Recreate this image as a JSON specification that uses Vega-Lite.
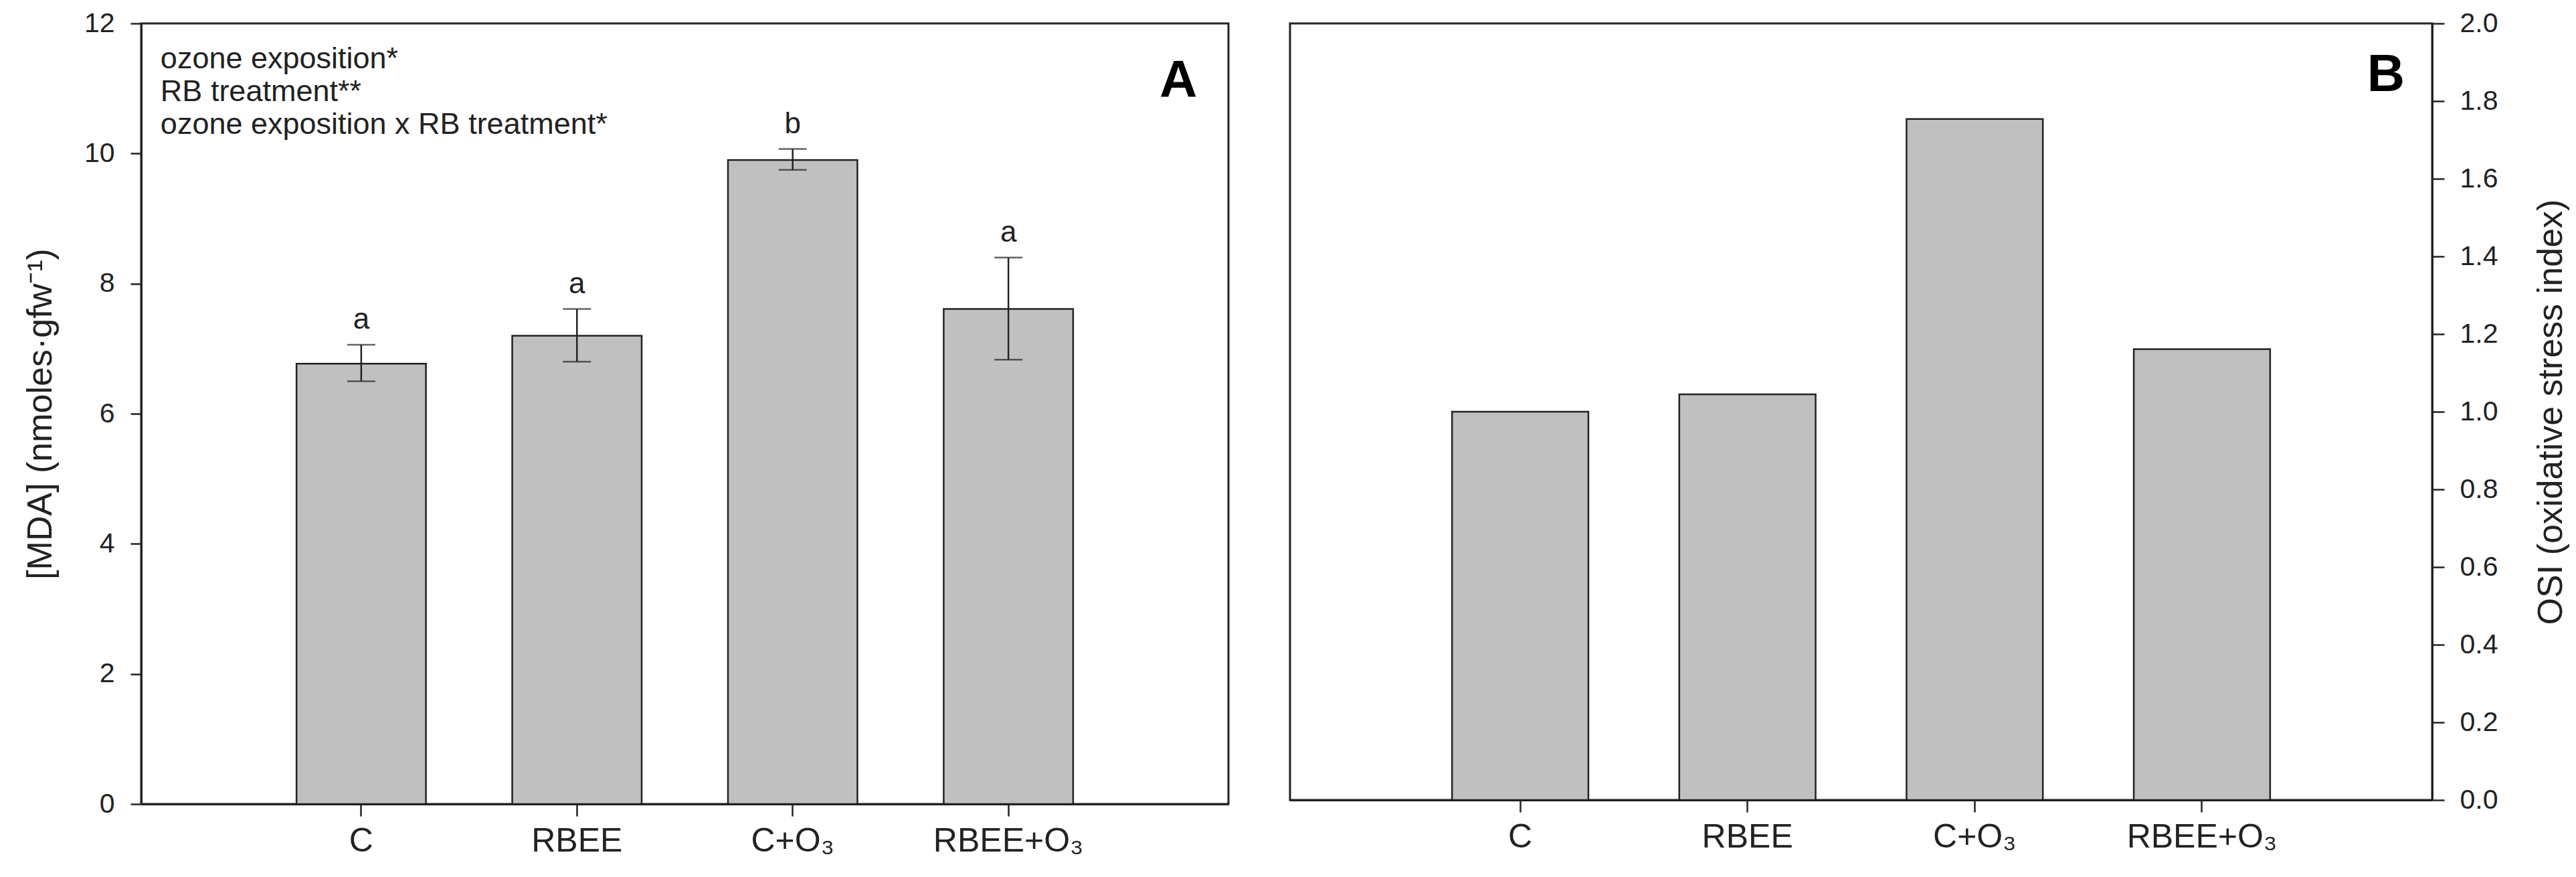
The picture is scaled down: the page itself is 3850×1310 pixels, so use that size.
{
  "$schema": "https://vega.github.io/schema/vega-lite/v6.json",
  "background": "white",
  "padding": {"left": 32, "top": 12, "right": 0, "bottom": 0},
  "spacing": 88,
  "config": {
    "font": "Liberation Sans",
    "view": {"stroke": "#222222", "strokeWidth": 3},
    "axis": {
      "domainColor": "#222222", "domainWidth": 3,
      "tickColor": "#222222", "tickWidth": 2.5,
      "labelColor": "#222222", "titleColor": "#222222",
      "grid": false, "labelLimit": 0, "titleLimit": 0,
      "labelFont": "Liberation Sans", "titleFont": "Liberation Sans",
      "titleFontWeight": "normal"
    }
  },
  "hconcat": [
    {
      "width": 1625,
      "height": 1166,
      "data": {"values": [
        {"treatment": "C", "mda": 6.77, "lo": 6.50, "hi": 7.06, "letter": "a"},
        {"treatment": "RBEE", "mda": 7.20, "lo": 6.80, "hi": 7.61, "letter": "a"},
        {"treatment": "C+O₃", "mda": 9.90, "lo": 9.75, "hi": 10.07, "letter": "b"},
        {"treatment": "RBEE+O₃", "mda": 7.61, "lo": 6.83, "hi": 8.40, "letter": "a"}
      ]},
      "encoding": {
        "x": {
          "field": "treatment", "type": "nominal",
          "scale": {"domain": ["C", "RBEE", "C+O₃", "RBEE+O₃"], "paddingInner": 0.4, "paddingOuter": 0.72},
          "axis": {"title": null, "labelAngle": 0, "labelFontSize": 50, "tickSize": 18, "labelPadding": 12}
        }
      },
      "layer": [
        {
          "mark": {"type": "bar", "fill": "#c0c0c0", "stroke": "#222222", "strokeWidth": 2.5},
          "encoding": {
            "y": {
              "field": "mda", "type": "quantitative",
              "scale": {"domain": [0, 12], "nice": false},
              "axis": {
                "title": "[MDA] (nmoles·gfw⁻¹)",
                "values": [0, 2, 4, 6, 8, 10, 12],
                "format": "d",
                "tickSize": 16, "labelPadding": 24, "labelFontSize": 41,
                "titleFontSize": 52, "titlePadding": 38
              }
            }
          }
        },
        {
          "mark": {"type": "rule", "strokeWidth": 2.5, "color": "#222222"},
          "encoding": {"y": {"field": "lo", "type": "quantitative"}, "y2": {"field": "hi"}}
        },
        {
          "mark": {"type": "tick", "orient": "horizontal", "size": 42, "thickness": 2.5, "color": "#222222"},
          "encoding": {"y": {"field": "lo", "type": "quantitative"}}
        },
        {
          "mark": {"type": "tick", "orient": "horizontal", "size": 42, "thickness": 2.5, "color": "#222222"},
          "encoding": {"y": {"field": "hi", "type": "quantitative"}}
        },
        {
          "mark": {"type": "text", "fontSize": 44, "baseline": "alphabetic", "dy": -24, "color": "#222222"},
          "encoding": {"y": {"field": "hi", "type": "quantitative"}, "text": {"field": "letter"}}
        },
        {
          "data": {"values": [{"panel": "A"}]},
          "mark": {
            "type": "text", "align": "left", "baseline": "alphabetic", "fontSize": 45, "lineHeight": 49,
            "dx": -300, "color": "#222222",
            "text": ["ozone exposition*", "RB treatment**", "ozone exposition x RB treatment*"]
          },
          "encoding": {"x": {"datum": "C"}, "y": {"datum": 11.31}}
        },
        {
          "data": {"values": [{"panel": "A"}]},
          "mark": {"type": "text", "align": "center", "baseline": "alphabetic", "fontSize": 78, "fontWeight": "bold", "dx": 254, "color": "#000000"},
          "encoding": {"x": {"datum": "RBEE+O₃"}, "y": {"datum": 10.87}, "text": {"field": "panel"}}
        }
      ]
    },
    {
      "width": 1707,
      "height": 1160,
      "data": {"values": [
        {"treatment": "C", "osi": 1.0},
        {"treatment": "RBEE", "osi": 1.045},
        {"treatment": "C+O₃", "osi": 1.754},
        {"treatment": "RBEE+O₃", "osi": 1.161}
      ]},
      "encoding": {
        "x": {
          "field": "treatment", "type": "nominal",
          "scale": {"domain": ["C", "RBEE", "C+O₃", "RBEE+O₃"], "paddingInner": 0.4, "paddingOuter": 0.713},
          "axis": {"title": null, "labelAngle": 0, "labelFontSize": 50, "tickSize": 18, "labelPadding": 12}
        }
      },
      "layer": [
        {
          "mark": {"type": "bar", "fill": "#c0c0c0", "stroke": "#222222", "strokeWidth": 2.5},
          "encoding": {
            "y": {
              "field": "osi", "type": "quantitative",
              "scale": {"domain": [0, 2], "nice": false},
              "axis": {
                "orient": "right",
                "title": "OSI (oxidative stress index)",
                "values": [0, 0.2, 0.4, 0.6, 0.8, 1.0, 1.2, 1.4, 1.6, 1.8, 2.0],
                "format": ".1f",
                "tickSize": 18, "labelPadding": 23, "labelFontSize": 41,
                "titleFontSize": 52, "titlePadding": 55, "titleAngle": 270, "titleBaseline": "top"
              }
            }
          }
        },
        {
          "data": {"values": [{"panel": "B"}]},
          "mark": {"type": "text", "align": "center", "baseline": "alphabetic", "fontSize": 78, "fontWeight": "bold", "dx": 275, "color": "#000000"},
          "encoding": {"x": {"datum": "RBEE+O₃"}, "y": {"datum": 1.826}, "text": {"field": "panel"}}
        }
      ]
    }
  ]
}
